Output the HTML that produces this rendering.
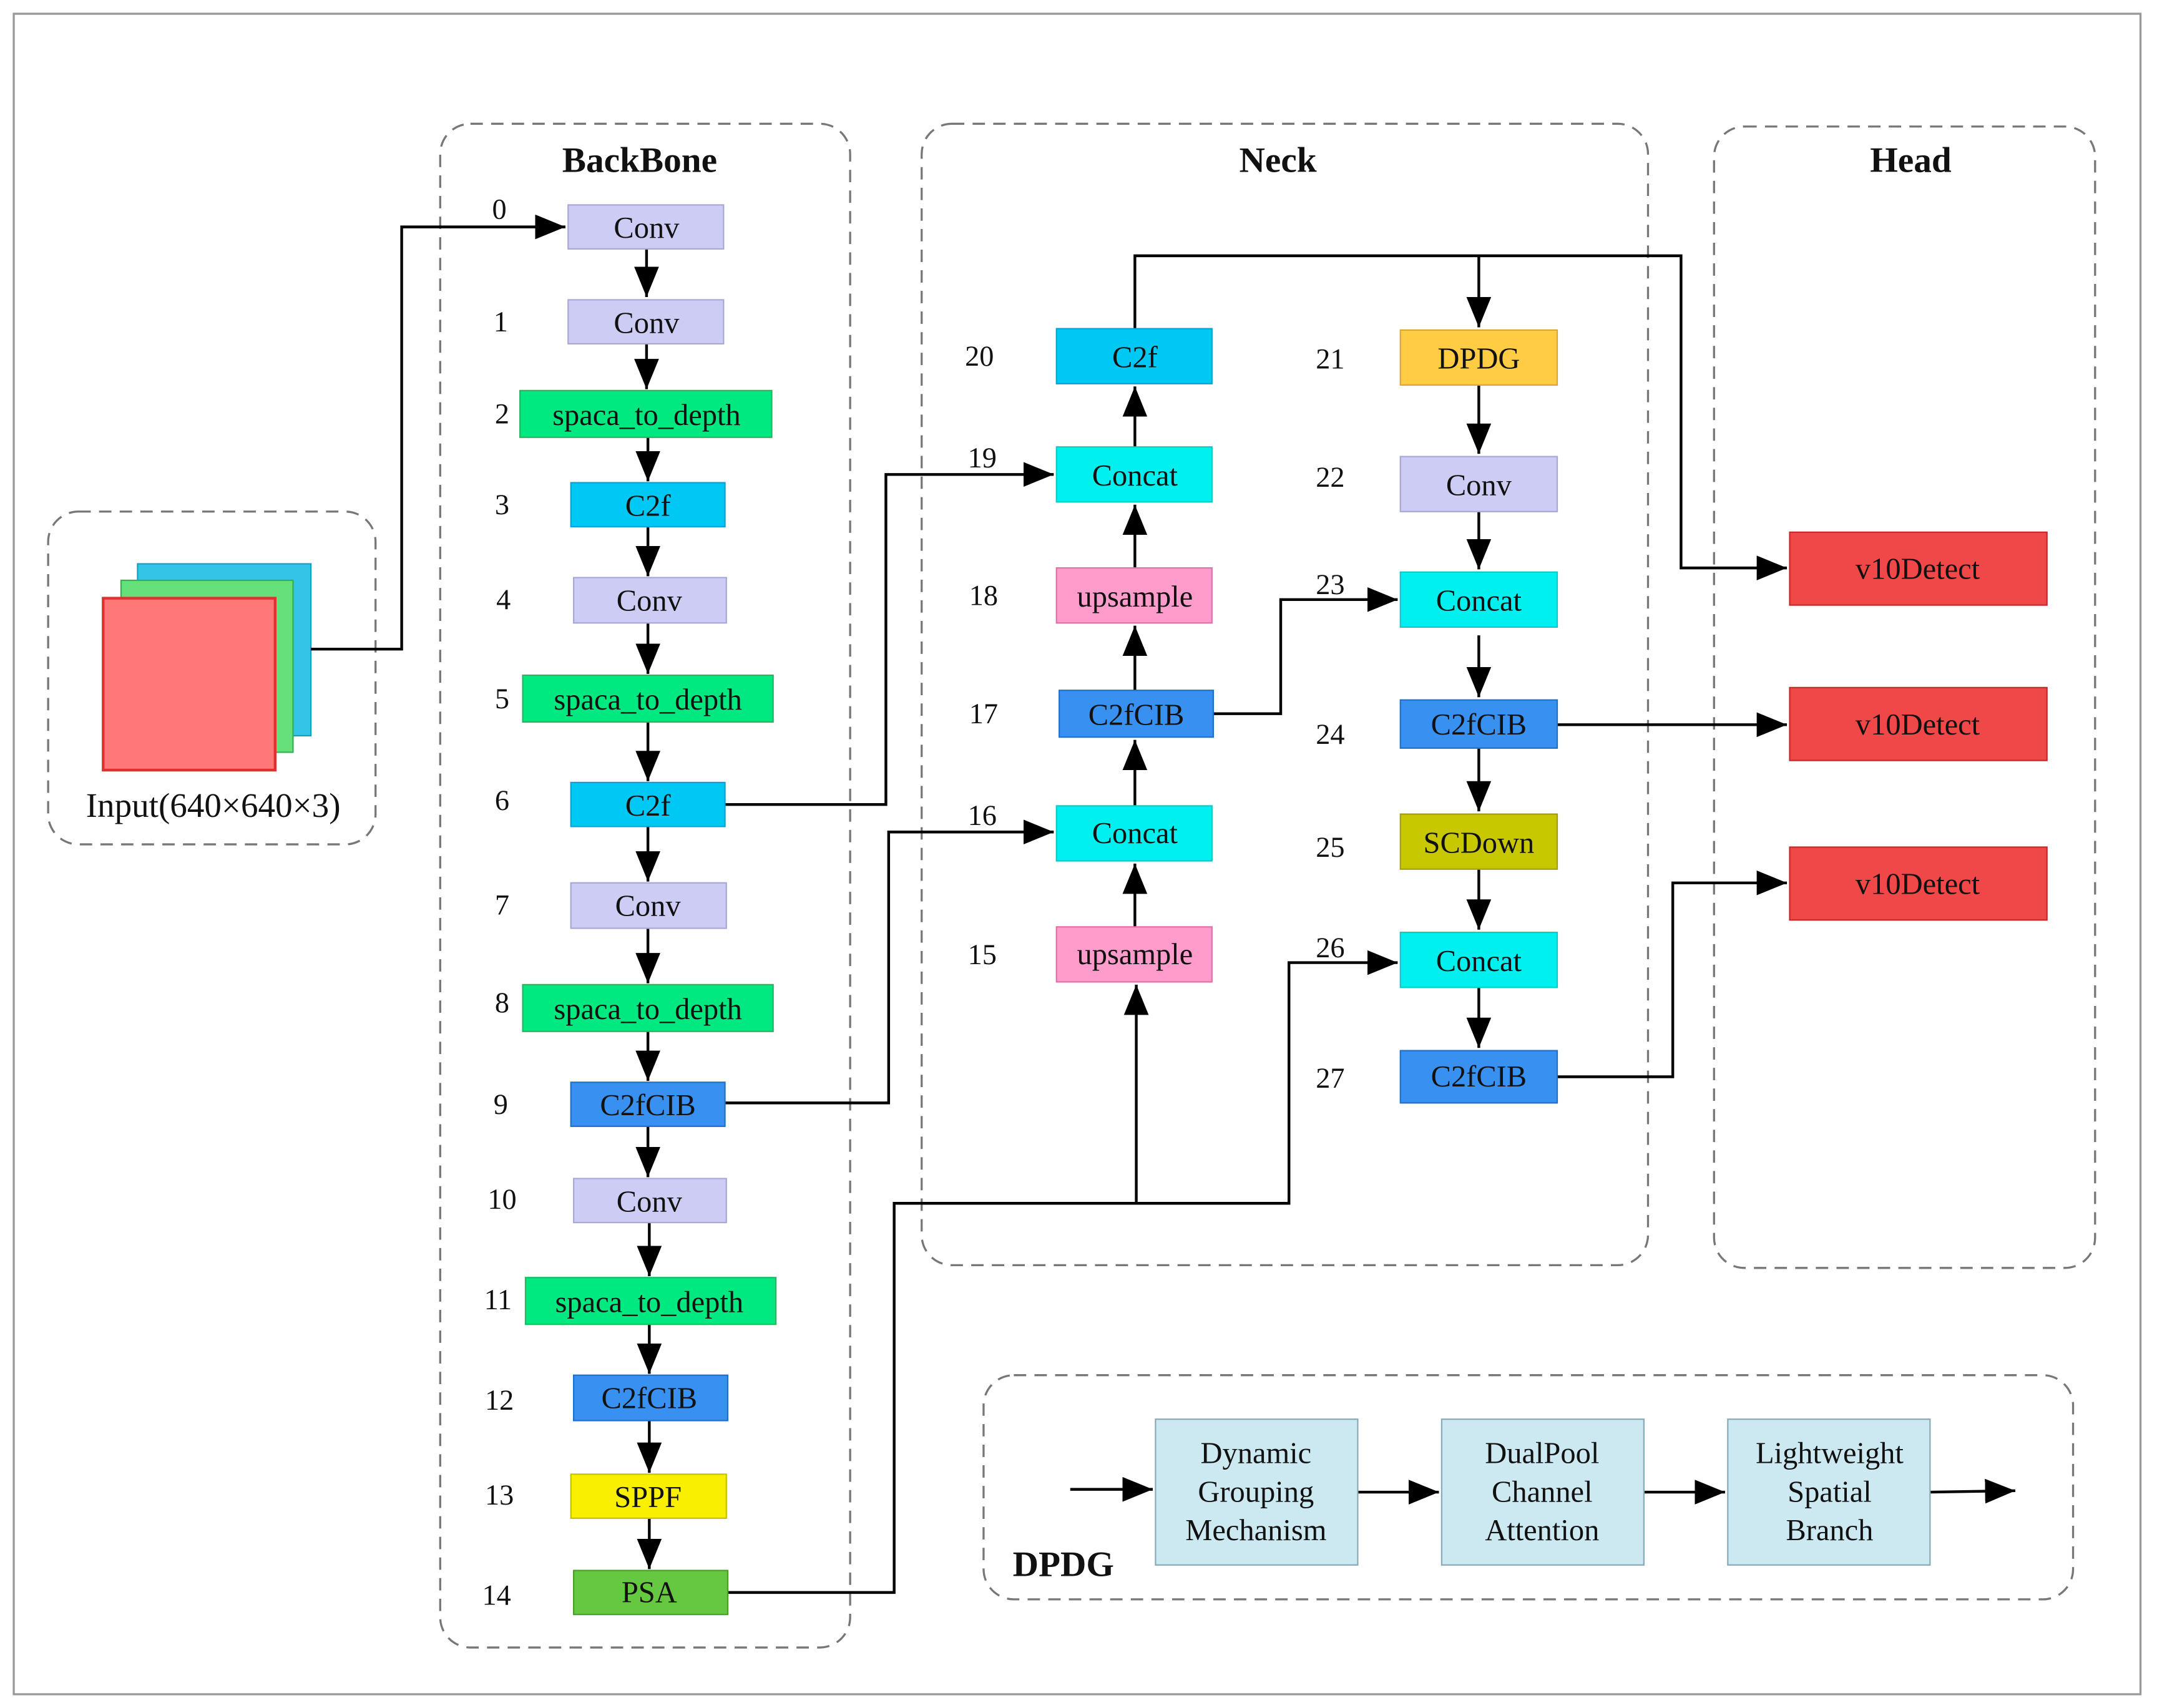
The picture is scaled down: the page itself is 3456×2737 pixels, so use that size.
<!DOCTYPE html>
<html><head><meta charset="utf-8"><style>
html,body{margin:0;padding:0;background:#fff}
svg{display:block;font-family:"Liberation Serif",serif}
svg text{font-family:"Liberation Serif",serif}
</style></head><body>
<svg width="3456" height="2737" viewBox="0 0 1568 1242" preserveAspectRatio="none" xmlns="http://www.w3.org/2000/svg" font-family="Liberation Serif, serif">
<defs>
<marker id="b" markerWidth="22" markerHeight="18" refX="22" refY="9" orient="auto" markerUnits="userSpaceOnUse">
<path d="M0,0 L22,9 L0,18 z" fill="#000"/></marker>
</defs>
<rect x="0" y="0" width="1568" height="1242" fill="#fff"/>
<rect x="10" y="10" width="1546" height="1222" fill="none" stroke="#999" stroke-width="1.5"/>

<g fill="none" stroke="#777" stroke-width="1.5" stroke-dasharray="9,6">
<rect x="35" y="372" width="238" height="242" rx="22"/>
<rect x="320" y="90" width="298" height="1108" rx="22"/>
<rect x="670" y="90" width="528" height="830" rx="22"/>
<rect x="1246" y="92" width="277" height="830" rx="22"/>
<rect x="715" y="1000" width="792" height="163" rx="22"/>
</g>
<g font-weight="bold" font-size="26" text-anchor="middle" fill="#111" font-family="Liberation Serif, serif">
<text x="465" y="125">BackBone</text>
<text x="929" y="125">Neck</text>
<text x="1389" y="125">Head</text>
<text x="773" y="1146">DPDG</text>
</g>

<rect x="100" y="410" width="126" height="125" fill="#33c4e8" stroke="#1a9cc0"/>
<rect x="88" y="422" width="125" height="125" fill="#66e07a" stroke="#33b050"/>
<rect x="75" y="435" width="125" height="125" fill="#ff7878" stroke="#e03030" stroke-width="2"/>
<text x="155" y="594" font-size="25" text-anchor="middle" fill="#111" font-family="Liberation Serif, serif">Input(640×640×3)</text>

<g fill="none" stroke="#000" stroke-width="2">
<polyline points="226,472 292,472 292,165 411,165" marker-end="url(#b)"/>
<line x1="470" y1="181" x2="470" y2="216" marker-end="url(#b)"/>
<line x1="470" y1="250" x2="470" y2="283" marker-end="url(#b)"/>
<line x1="471" y1="318" x2="471" y2="350" marker-end="url(#b)"/>
<line x1="471" y1="383" x2="471" y2="419" marker-end="url(#b)"/>
<line x1="471" y1="453" x2="471" y2="490" marker-end="url(#b)"/>
<line x1="471" y1="525" x2="471" y2="568" marker-end="url(#b)"/>
<line x1="471" y1="601" x2="471" y2="641" marker-end="url(#b)"/>
<line x1="471" y1="675" x2="471" y2="715" marker-end="url(#b)"/>
<line x1="471" y1="750" x2="471" y2="786" marker-end="url(#b)"/>
<line x1="471" y1="819" x2="471" y2="856" marker-end="url(#b)"/>
<line x1="472" y1="889" x2="472" y2="928" marker-end="url(#b)"/>
<line x1="472" y1="963" x2="472" y2="999" marker-end="url(#b)"/>
<line x1="472" y1="1033" x2="472" y2="1071" marker-end="url(#b)"/>
<line x1="472" y1="1104" x2="472" y2="1141" marker-end="url(#b)"/>

<polyline points="527,585 644,585 644,345 766,345" marker-end="url(#b)"/>
<polyline points="527,802 646,802 646,605 766,605" marker-end="url(#b)"/>
<polyline points="529,1158 650,1158 650,875 826,875 826,716" marker-end="url(#b)"/>
<polyline points="826,875 937,875 937,700 1016,700" marker-end="url(#b)"/>

<line x1="825" y1="674" x2="825" y2="628" marker-end="url(#b)"/>
<line x1="825" y1="586" x2="825" y2="538" marker-end="url(#b)"/>
<line x1="825" y1="502" x2="825" y2="455" marker-end="url(#b)"/>
<line x1="825" y1="413" x2="825" y2="367" marker-end="url(#b)"/>
<line x1="825" y1="325" x2="825" y2="281" marker-end="url(#b)"/>

<polyline points="825,239 825,186 1222,186 1222,413 1299,413" marker-end="url(#b)"/>
<line x1="1075" y1="186" x2="1075" y2="238" marker-end="url(#b)"/>
<polyline points="882,519 931,519 931,436 1016,436" marker-end="url(#b)"/>

<line x1="1075" y1="280" x2="1075" y2="330" marker-end="url(#b)"/>
<line x1="1075" y1="372" x2="1075" y2="414" marker-end="url(#b)"/>
<line x1="1075" y1="462" x2="1075" y2="507" marker-end="url(#b)"/>
<line x1="1075" y1="544" x2="1075" y2="590" marker-end="url(#b)"/>
<line x1="1075" y1="632" x2="1075" y2="676" marker-end="url(#b)"/>
<line x1="1075" y1="718" x2="1075" y2="762" marker-end="url(#b)"/>

<line x1="1132" y1="527" x2="1299" y2="527" marker-end="url(#b)"/>
<polyline points="1132,783 1216,783 1216,642 1299,642" marker-end="url(#b)"/>

<line x1="778" y1="1083" x2="838" y2="1083" marker-end="url(#b)"/>
<line x1="987" y1="1085" x2="1046" y2="1085" marker-end="url(#b)"/>
<line x1="1195" y1="1085" x2="1254" y2="1085" marker-end="url(#b)"/>
<line x1="1403" y1="1085" x2="1465" y2="1084" marker-end="url(#b)"/>
</g>

<g stroke-width="1" font-size="22" text-anchor="middle" fill="#111" font-family="Liberation Serif, serif">
<rect x="413" y="149" width="113" height="32" fill="#ccccf4" stroke="#a8a8d8"/>
<text x="470" y="173">Conv</text>
<rect x="413" y="218" width="113" height="32" fill="#ccccf4" stroke="#a8a8d8"/>
<text x="470" y="242">Conv</text>
<rect x="378" y="284" width="183" height="34" fill="#00e880" stroke="#20b860"/>
<text x="470" y="309">spaca_to_depth</text>
<rect x="415" y="351" width="112" height="32" fill="#00c8f4" stroke="#10a0d0"/>
<text x="471" y="375">C2f</text>
<rect x="417" y="420" width="111" height="33" fill="#ccccf4" stroke="#a8a8d8"/>
<text x="472" y="444">Conv</text>
<rect x="380" y="491" width="182" height="34" fill="#00e880" stroke="#20b860"/>
<text x="471" y="516">spaca_to_depth</text>
<rect x="415" y="569" width="112" height="32" fill="#00c8f4" stroke="#10a0d0"/>
<text x="471" y="593">C2f</text>
<rect x="415" y="642" width="113" height="33" fill="#ccccf4" stroke="#a8a8d8"/>
<text x="471" y="666">Conv</text>
<rect x="380" y="716" width="182" height="34" fill="#00e880" stroke="#20b860"/>
<text x="471" y="741">spaca_to_depth</text>
<rect x="415" y="787" width="112" height="32" fill="#3890f0" stroke="#2070c8"/>
<text x="471" y="811">C2fCIB</text>
<rect x="417" y="857" width="111" height="32" fill="#ccccf4" stroke="#a8a8d8"/>
<text x="472" y="881">Conv</text>
<rect x="382" y="929" width="182" height="34" fill="#00e880" stroke="#20b860"/>
<text x="472" y="954">spaca_to_depth</text>
<rect x="417" y="1000" width="112" height="33" fill="#3890f0" stroke="#2070c8"/>
<text x="472" y="1024">C2fCIB</text>
<rect x="415" y="1072" width="113" height="32" fill="#f8f000" stroke="#c8c000"/>
<text x="471" y="1096">SPPF</text>
<rect x="417" y="1142" width="112" height="32" fill="#66c840" stroke="#48a028"/>
<text x="472" y="1165">PSA</text>

<rect x="768" y="239" width="113" height="40" fill="#00c8f4" stroke="#10a0d0"/>
<text x="825" y="267">C2f</text>
<rect x="768" y="325" width="113" height="40" fill="#00f0f0" stroke="#10c8c8"/>
<text x="825" y="353">Concat</text>
<rect x="768" y="413" width="113" height="40" fill="#ff9ccc" stroke="#e070a8"/>
<text x="825" y="441">upsample</text>
<rect x="770" y="502" width="112" height="34" fill="#3890f0" stroke="#2070c8"/>
<text x="826" y="527">C2fCIB</text>
<rect x="768" y="586" width="113" height="40" fill="#00f0f0" stroke="#10c8c8"/>
<text x="825" y="613">Concat</text>
<rect x="768" y="674" width="113" height="40" fill="#ff9ccc" stroke="#e070a8"/>
<text x="825" y="701">upsample</text>

<rect x="1018" y="240" width="114" height="40" fill="#ffcc44" stroke="#d8a830"/>
<text x="1075" y="268">DPDG</text>
<rect x="1018" y="332" width="114" height="40" fill="#ccccf4" stroke="#a8a8d8"/>
<text x="1075" y="360">Conv</text>
<rect x="1018" y="416" width="114" height="40" fill="#00f0f0" stroke="#10c8c8"/>
<text x="1075" y="444">Concat</text>
<rect x="1018" y="509" width="114" height="35" fill="#3890f0" stroke="#2070c8"/>
<text x="1075" y="534">C2fCIB</text>
<rect x="1018" y="592" width="114" height="40" fill="#c8c800" stroke="#a0a000"/>
<text x="1075" y="620">SCDown</text>
<rect x="1018" y="678" width="114" height="40" fill="#00f0f0" stroke="#10c8c8"/>
<text x="1075" y="706">Concat</text>
<rect x="1018" y="764" width="114" height="38" fill="#3890f0" stroke="#2070c8"/>
<text x="1075" y="790">C2fCIB</text>

<rect x="1301" y="387" width="187" height="53" fill="#f04848" stroke="#c82828"/>
<text x="1394" y="421">v10Detect</text>
<rect x="1301" y="500" width="187" height="53" fill="#f04848" stroke="#c82828"/>
<text x="1394" y="534">v10Detect</text>
<rect x="1301" y="616" width="187" height="53" fill="#f04848" stroke="#c82828"/>
<text x="1394" y="650">v10Detect</text>

<rect x="840" y="1032" width="147" height="106" fill="#cce8f0" stroke="#88aab8"/>
<text x="913" y="1064">Dynamic</text><text x="913" y="1092">Grouping</text><text x="913" y="1120">Mechanism</text>
<rect x="1048" y="1032" width="147" height="106" fill="#cce8f0" stroke="#88aab8"/>
<text x="1121" y="1064">DualPool</text><text x="1121" y="1092">Channel</text><text x="1121" y="1120">Attention</text>
<rect x="1256" y="1032" width="147" height="106" fill="#cce8f0" stroke="#88aab8"/>
<text x="1330" y="1064">Lightweight</text><text x="1330" y="1092">Spatial</text><text x="1330" y="1120">Branch</text>
</g>

<g font-size="21" text-anchor="middle" fill="#111" font-family="Liberation Serif, serif">
<text x="363" y="159">0</text><text x="364" y="241">1</text><text x="365" y="308">2</text>
<text x="365" y="374">3</text><text x="366" y="443">4</text><text x="365" y="515">5</text>
<text x="365" y="589">6</text><text x="365" y="665">7</text><text x="365" y="736">8</text>
<text x="364" y="810">9</text><text x="365" y="879">10</text><text x="362" y="952">11</text>
<text x="363" y="1025">12</text><text x="363" y="1094">13</text><text x="361" y="1167">14</text>
<text x="712" y="266">20</text><text x="714" y="340">19</text><text x="715" y="440">18</text>
<text x="715" y="526">17</text><text x="714" y="600">16</text><text x="714" y="701">15</text>
<text x="967" y="268">21</text><text x="967" y="354">22</text><text x="967" y="432">23</text>
<text x="967" y="541">24</text><text x="967" y="623">25</text><text x="967" y="696">26</text>
<text x="967" y="791">27</text>
</g>
</svg>
</body></html>
